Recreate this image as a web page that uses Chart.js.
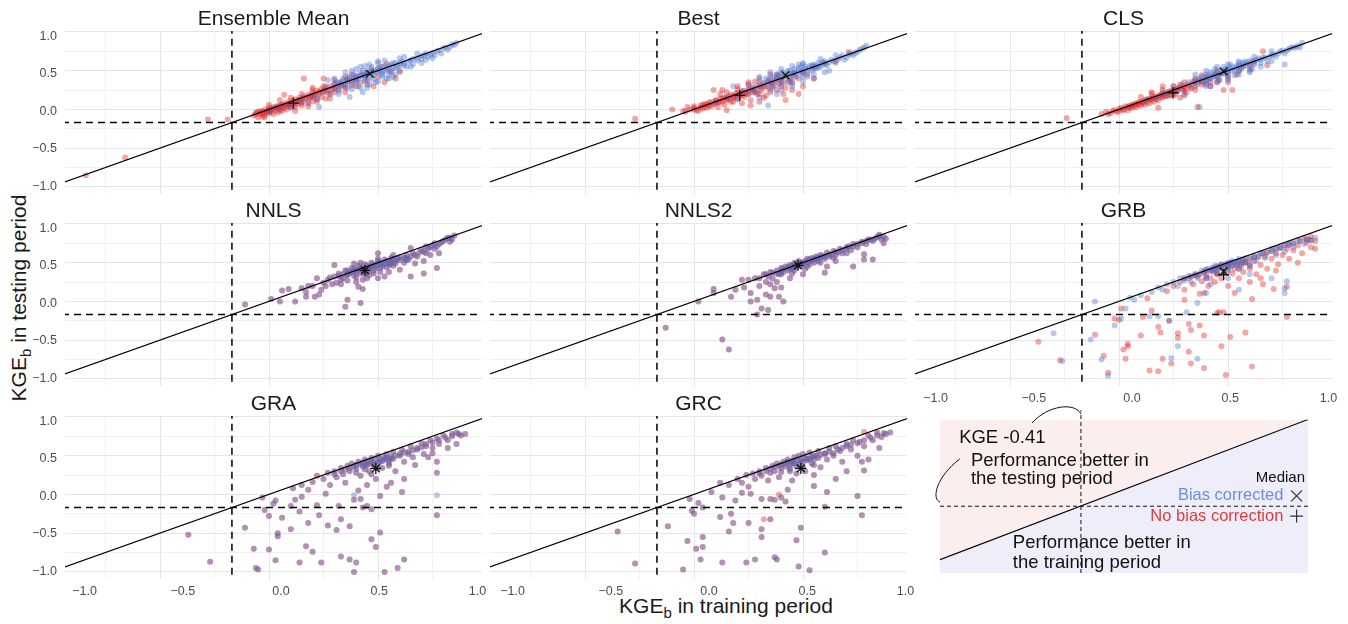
<!DOCTYPE html>
<html>
<head>
<meta charset="utf-8">
<script src="https://cdn.jsdelivr.net/npm/chart.js@4.4.1/dist/chart.umd.min.js"></script>
<style>
  body { margin: 0; background: #fff; width: 1348px; height: 624px; overflow: hidden; position: relative;
         font-family: "Liberation Sans", Arial, sans-serif; }
  .box { position: absolute; }
  .axt { position: absolute; font-size: 21px; color: #1a1a1a; white-space: nowrap; line-height: 21px; }
  .axt sub { font-size: 15px; vertical-align: -5px; line-height: 0; }
</style>
</head>
<body>
<div class="axt" id="xTitle" style="left:726px; top:595px; transform:translateX(-50%);">KGE<sub>b</sub> in training period</div>
<div class="axt" id="yTitle" style="left:18px; top:298px; transform:translate(-50%,-50%) rotate(-90deg);">KGE<sub>b</sub> in testing period</div>
<script>
// panel titles, in reading order
const panelTitles = ['Ensemble Mean', 'Best', 'CLS', 'NNLS', 'NNLS2', 'GRB', 'GRA', 'GRC'];

// ticks
const xGridTicks = [-0.75, -0.5, -0.25, 0, 0.25, 0.5, 0.75];
const yGridTicks = [-1, -0.75, -0.5, -0.25, 0, 0.25, 0.5, 0.75, 1];
const labelTicks = [-1, -0.5, 0, 0.5, 1];
const dashedAt = -0.17;

// [training, testing] pairs
const ensNoBias = [[-0.84,-0.85],[-0.66,-0.62],[-0.28,-0.13],[-0.19,-0.13],[-0.07,-0.08],[-0.06,-0.04],[-0.05,-0.1],[-0.04,-0.06],
  [-0.03,-0.03],[-0.02,-0.07],[-0.01,-0.02],[0.0,-0.05],[0.0,0.0],[0.01,-0.03],[0.02,0.01],[0.02,-0.06],[0.03,-0.01],[0.04,0.03],
  [0.04,-0.04],[0.05,0.01],[0.06,0.05],[0.06,-0.02],[0.07,0.02],[0.08,0.06],[0.08,0.0],[0.09,0.04],[0.1,0.08],[0.1,0.02],
  [0.11,0.05],[0.12,0.1],[0.12,0.03],[0.13,0.07],[0.14,0.12],[0.15,0.05],[0.15,0.1],[0.16,0.4],[0.07,0.19],[0.17,0.13],
  [0.18,0.08],[0.19,0.15],[0.2,0.11],[0.21,0.18],[0.22,0.13],[0.23,0.2],[0.24,0.16],[0.25,0.22],[0.26,0.14],[0.27,0.25],
  [0.28,0.2],[0.29,0.27],[0.3,0.22],[0.31,0.3],[0.32,0.26],[0.33,0.33],[0.35,0.28],[0.36,0.36],[0.38,0.31],[0.4,0.42],
  [0.42,0.35],[0.44,0.45],[0.45,0.38],[0.47,0.5],[0.5,0.42],[0.52,0.55],[0.53,0.35],[0.54,0.59],[0.56,0.48],[0.6,0.5],
  [0.58,0.4],[0.25,0.4],[0.3,0.38],[0.2,0.25],[0.48,0.3]];
const ensNoBiasCore = [[-0.06,-0.06],[-0.05,-0.03],[-0.04,-0.02],[-0.03,-0.05],[-0.02,0.0],[-0.01,-0.04],[0.0,0.02],[0.01,0.0],
  [0.02,0.03],[0.03,0.02],[0.04,0.05],[0.05,0.04],[0.06,0.07],[0.07,0.05],[0.08,0.09],[0.09,0.07],[0.1,0.11],[0.11,0.09],
  [0.12,0.13],[0.13,0.11],[0.14,0.15],[0.15,0.13],[0.16,0.17],[0.17,0.15],[0.18,0.19],[0.19,0.17],[0.2,0.21],[0.21,0.2],
  [0.22,0.24],[0.23,0.22],[0.24,0.26],[0.25,0.24],[0.26,0.28],[0.27,0.22],[0.28,0.3],[0.3,0.32],[0.32,0.34],[0.34,0.31],
  [0.36,0.39],[0.38,0.37],[0.4,0.38],[0.42,0.44],[0.45,0.47],[0.05,-0.01],[0.1,0.06],[0.15,0.08],[0.2,0.16],[0.0,-0.02],
  [-0.03,-0.09],[0.35,0.42],[0.5,0.52],
  [0.05,0.12],[0.1,0.15],[0.15,0.2],[0.2,0.28],[0.25,0.3],[0.3,0.26],[0.12,-0.02],[0.18,0.04],[0.22,0.1],[0.28,0.14],
  [0.35,0.22],[0.4,0.3],[0.45,0.32],[0.38,0.45],[0.0,0.06],[-0.02,-0.1]];
const ensBias = [[0.0,-0.02],[0.03,0.02],[0.06,0.05],[0.1,0.03],[0.12,0.08],[0.15,0.12],[0.18,0.1],[0.2,0.18],[0.22,0.14],
  [0.23,0.03],[0.25,0.22],[0.26,0.3],[0.28,0.2],[0.3,0.28],[0.31,0.35],[0.32,0.24],[0.33,0.31],[0.34,0.4],[0.35,0.3],
  [0.36,0.36],[0.37,0.16],[0.37,0.42],[0.38,0.33],[0.39,0.45],[0.4,0.38],[0.41,0.3],[0.42,0.43],[0.43,0.5],[0.44,0.36],
  [0.45,0.46],[0.46,0.4],[0.47,0.52],[0.48,0.44],[0.49,0.35],[0.5,0.48],[0.51,0.55],[0.52,0.45],[0.53,0.5],[0.54,0.4],
  [0.55,0.56],[0.56,0.5],[0.57,0.6],[0.58,0.53],[0.6,0.57],[0.62,0.6],[0.63,0.55],[0.65,0.63],[0.66,0.58],[0.68,0.66],
  [0.7,0.65],[0.71,0.7],[0.73,0.68],[0.75,0.73],[0.76,0.7],[0.78,0.76],[0.79,0.72],[0.8,0.79],[0.82,0.77],[0.83,0.81],
  [0.85,0.83],[0.75,0.66],[0.7,0.6],[0.6,0.48],[0.27,0.38],[0.45,0.28],[0.58,0.45],[0.5,0.6]];
const ensBiasCore = [[0.3,0.33],[0.32,0.3],[0.34,0.36],[0.35,0.33],[0.36,0.4],[0.38,0.38],[0.39,0.41],[0.4,0.43],[0.41,0.4],
  [0.42,0.47],[0.43,0.44],[0.44,0.42],[0.45,0.5],[0.46,0.47],[0.47,0.44],[0.48,0.5],[0.49,0.48],[0.5,0.53],[0.51,0.5],
  [0.52,0.48],[0.53,0.56],[0.54,0.52],[0.55,0.5],[0.56,0.58],[0.57,0.54],[0.58,0.6],[0.59,0.55],[0.6,0.6],[0.61,0.62],
  [0.62,0.57],[0.64,0.62],[0.66,0.65],[0.68,0.63],[0.7,0.69],[0.72,0.72],[0.74,0.71],[0.77,0.75],[0.81,0.8],[0.84,0.84],
  [0.86,0.86],[0.4,0.35],[0.44,0.39],[0.48,0.39],[0.52,0.42],[0.36,0.28],[0.33,0.36],[0.47,0.55],[0.55,0.45],
  [0.35,0.48],[0.38,0.5],[0.4,0.52],[0.42,0.55],[0.44,0.56],[0.46,0.58],[0.5,0.62],[0.53,0.63],[0.38,0.26],[0.42,0.28],
  [0.46,0.32],[0.5,0.36],[0.55,0.4],[0.43,0.22],[0.32,0.2],[0.3,0.4],[0.62,0.68],[0.65,0.55],[0.68,0.72],[0.72,0.64],
  [0.6,0.66],[0.57,0.42]];

const bestNoBias = [[-0.27,-0.12],[-0.1,0.0],[-0.05,-0.02],[-0.03,0.03],[0.0,0.0],[0.0,0.04],[0.02,-0.02],[0.03,0.05],[0.04,0.01],
  [0.05,0.07],[0.06,0.02],[0.07,0.09],[0.08,0.04],[0.09,0.25],[0.1,0.08],[0.1,0.12],[0.11,0.03],[0.12,0.1],[0.13,0.25],
  [0.13,0.14],[0.14,0.06],[0.15,0.12],[0.15,-0.01],[0.16,0.17],[0.17,0.1],[0.18,0.15],[0.19,0.2],[0.2,0.13],[0.21,0.18],
  [0.22,0.22],[0.23,0.16],[0.24,0.2],[0.25,0.25],[0.26,0.12],[0.27,0.22],[0.28,0.28],[0.29,0.2],[0.3,0.3],[0.31,0.25],
  [0.32,0.33],[0.33,0.18],[0.34,0.28],[0.35,0.35],[0.36,0.3],[0.37,0.38],[0.38,0.25],[0.39,0.33],[0.4,0.4],[0.41,0.2],
  [0.42,0.12],[0.43,0.35],[0.45,0.25],[0.46,0.42],[0.48,0.4],[0.5,0.48],[0.52,0.45],[0.55,0.55],[0.6,0.6],[0.65,0.62],
  [0.71,0.74],[0.35,0.45],[0.25,0.32],[0.3,0.1]];
const bestNoBiasCore = [[-0.04,-0.03],[-0.02,0.0],[0.0,0.02],[0.01,-0.01],[0.03,0.02],[0.04,0.06],[0.05,0.03],[0.06,0.07],
  [0.07,0.05],[0.08,0.1],[0.09,0.07],[0.1,0.11],[0.11,0.09],[0.12,0.14],[0.13,0.1],[0.14,0.15],[0.15,0.14],[0.16,0.13],
  [0.17,0.19],[0.18,0.17],[0.19,0.16],[0.2,0.21],[0.21,0.2],[0.22,0.18],[0.23,0.24],[0.24,0.22],[0.25,0.2],[0.26,0.27],
  [0.27,0.25],[0.28,0.23],[0.3,0.32],[0.31,0.28],[0.33,0.3],[0.34,0.36],[0.36,0.33],[0.38,0.4],[0.4,0.36],[0.42,0.43],
  [0.44,0.38],[0.46,0.47],[0.12,0.2],[0.2,0.26],[0.3,0.4],[0.18,0.1],
  [0.2,0.3],[0.25,0.35],[0.3,0.2],[0.32,0.15],[0.35,0.22],[0.28,0.36],[0.4,0.3],[0.42,0.28],[0.45,0.35],[0.38,0.45],
  [0.15,0.22],[0.22,0.08],[0.26,0.05],[0.48,0.2],[0.5,0.3],[0.55,0.4]];
const bestBias = [[0.1,0.1],[0.15,0.16],[0.18,0.3],[0.2,0.14],[0.22,0.24],[0.25,0.2],[0.27,0.3],[0.29,0.26],[0.3,0.36],
  [0.32,0.3],[0.33,0.4],[0.34,0.05],[0.35,0.34],[0.36,0.42],[0.37,0.31],[0.38,0.45],[0.39,0.38],[0.4,0.48],[0.41,0.35],
  [0.42,0.44],[0.43,0.5],[0.44,0.4],[0.45,0.46],[0.46,0.52],[0.47,0.42],[0.48,0.5],[0.49,0.55],[0.5,0.46],[0.51,0.52],
  [0.52,0.42],[0.53,0.56],[0.54,0.5],[0.55,0.58],[0.56,0.53],[0.57,0.6],[0.58,0.55],[0.6,0.62],[0.61,0.57],[0.62,0.5],
  [0.63,0.64],[0.65,0.6],[0.67,0.67],[0.69,0.64],[0.71,0.71],[0.73,0.7],[0.76,0.77],[0.78,0.8],[0.79,0.82],[0.45,0.3],
  [0.38,0.2],[0.3,0.15],[0.55,0.45],[0.5,0.6]];
const bestBiasCore = [[0.32,0.34],[0.34,0.38],[0.35,0.4],[0.37,0.36],[0.38,0.42],[0.39,0.44],[0.4,0.42],[0.41,0.47],[0.42,0.41],
  [0.43,0.46],[0.44,0.5],[0.45,0.44],[0.46,0.48],[0.47,0.46],[0.48,0.53],[0.49,0.48],[0.5,0.5],[0.51,0.55],[0.52,0.49],
  [0.53,0.53],[0.54,0.57],[0.55,0.52],[0.56,0.56],[0.57,0.54],[0.58,0.58],[0.59,0.61],[0.6,0.58],[0.62,0.61],[0.64,0.62],
  [0.66,0.65],[0.68,0.7],[0.7,0.67],[0.72,0.72],[0.74,0.73],[0.75,0.74],[0.77,0.78],[0.44,0.36],[0.4,0.33],[0.36,0.28],
  [0.5,0.42],[0.48,0.58],
  [0.3,0.42],[0.35,0.48],[0.4,0.52],[0.45,0.56],[0.5,0.58],[0.35,0.25],[0.4,0.25],[0.45,0.33],[0.5,0.36],[0.55,0.4],
  [0.6,0.48],[0.28,0.22],[0.25,0.3],[0.58,0.65],[0.65,0.7]];

const clsNoBias = [[-0.24,-0.11],[-0.08,-0.06],[-0.06,-0.03],[-0.04,-0.05],[-0.02,-0.01],[0.0,-0.03],[0.0,0.01],[0.02,0.0],
  [0.03,0.04],[0.04,-0.01],[0.05,0.05],[0.06,0.02],[0.07,0.07],[0.08,0.03],[0.09,0.09],[0.1,0.05],[0.11,0.1],[0.12,0.06],
  [0.13,0.13],[0.14,0.08],[0.15,0.14],[0.16,0.1],[0.17,0.16],[0.18,0.02],[0.18,0.12],[0.19,0.19],[0.2,0.15],[0.21,0.2],
  [0.22,0.17],[0.23,0.23],[0.24,0.18],[0.25,0.25],[0.26,0.2],[0.27,0.27],[0.28,0.15],[0.29,0.26],[0.3,0.3],[0.31,0.22],
  [0.32,0.32],[0.33,0.27],[0.34,0.36],[0.35,0.3],[0.36,0.03],[0.37,0.38],[0.38,0.32],[0.4,0.42],[0.42,0.35],[0.44,0.45],
  [0.46,0.38],[0.48,0.25],[0.5,0.48],[0.52,0.25],[0.54,0.45],[0.57,0.55],[0.61,0.52],[0.66,0.75],[0.68,0.57],[0.62,0.62],
  [0.2,0.3],[0.15,0.22],[0.3,0.18]];
const clsNoBiasCore = [[-0.05,-0.06],[-0.03,-0.02],[-0.01,-0.03],[0.01,0.02],[0.02,-0.01],[0.04,0.03],[0.05,0.02],[0.06,0.06],
  [0.07,0.04],[0.08,0.08],[0.09,0.06],[0.1,0.1],[0.11,0.08],[0.12,0.12],[0.13,0.1],[0.14,0.14],[0.15,0.12],[0.16,0.16],
  [0.17,0.13],[0.18,0.18],[0.19,0.16],[0.2,0.2],[0.21,0.17],[0.22,0.22],[0.23,0.19],[0.24,0.24],[0.25,0.22],[0.26,0.26],
  [0.27,0.24],[0.28,0.29],[0.3,0.27],[0.32,0.3],[0.34,0.33],[0.36,0.35],[0.38,0.36],[0.4,0.38],[0.42,0.41],[0.45,0.42],
  [0.48,0.47],[0.25,0.3],[0.3,0.35],[0.35,0.25],[0.42,0.3],[0.5,0.35],
  [0.1,0.16],[0.15,0.2],[0.2,0.25],[0.25,0.18],[0.3,0.24],[0.35,0.4],[0.4,0.32],[0.45,0.35],[0.5,0.42],[0.55,0.5],
  [0.38,0.44],[0.28,0.32],[0.6,0.58],[0.45,0.5]];
const clsBias = [[0.12,0.12],[0.17,0.15],[0.2,0.22],[0.22,0.18],[0.25,0.3],[0.27,0.25],[0.29,0.32],[0.3,0.2],[0.32,0.35],
  [0.33,0.28],[0.35,0.38],[0.36,0.32],[0.37,0.03],[0.38,0.42],[0.39,0.35],[0.4,0.45],[0.41,0.38],[0.42,0.48],[0.43,0.42],
  [0.44,0.52],[0.45,0.45],[0.46,0.38],[0.47,0.5],[0.48,0.55],[0.49,0.46],[0.5,0.52],[0.51,0.58],[0.52,0.5],[0.53,0.44],
  [0.54,0.56],[0.55,0.6],[0.56,0.52],[0.57,0.58],[0.58,0.62],[0.6,0.55],[0.61,0.63],[0.62,0.58],[0.64,0.66],[0.65,0.6],
  [0.67,0.67],[0.68,0.62],[0.7,0.7],[0.72,0.68],[0.74,0.75],[0.76,0.72],[0.76,0.58],[0.78,0.78],[0.8,0.8],[0.82,0.82],
  [0.84,0.86],[0.83,0.8],[0.42,0.3],[0.5,0.4],[0.6,0.48]];
const clsBiasCore = [[0.35,0.36],[0.37,0.4],[0.38,0.37],[0.4,0.41],[0.41,0.44],[0.42,0.4],[0.43,0.46],[0.44,0.44],[0.45,0.49],
  [0.46,0.46],[0.47,0.45],[0.48,0.5],[0.49,0.52],[0.5,0.49],[0.51,0.53],[0.52,0.55],[0.53,0.51],[0.54,0.54],[0.55,0.57],
  [0.56,0.55],[0.57,0.6],[0.58,0.57],[0.59,0.6],[0.6,0.62],[0.62,0.6],[0.63,0.64],[0.65,0.64],[0.66,0.67],[0.69,0.68],
  [0.71,0.71],[0.73,0.72],[0.75,0.76],[0.77,0.76],[0.79,0.8],[0.81,0.8],[0.45,0.4],[0.5,0.44],[0.55,0.5],[0.4,0.35],[0.6,0.5],
  [0.35,0.45],[0.4,0.5],[0.45,0.55],[0.5,0.58],[0.55,0.62],[0.4,0.3],[0.45,0.35],[0.5,0.38],[0.55,0.45],[0.6,0.52],
  [0.65,0.55],[0.7,0.62],[0.7,0.75],[0.62,0.68]];

// panels where both runs coincide (drawn red and blue on top of each other)
const nnlsPts = [[-0.11,-0.04],[0.01,0.03],[0.05,0.0],[0.06,0.14],[0.09,0.16],[0.12,0.0],[0.15,0.17],[0.17,0.06],[0.17,0.12],
  [0.21,0.06],[0.23,0.09],[0.22,0.3],[0.26,0.2],[0.28,0.31],[0.3,0.47],[0.31,0.24],[0.35,-0.07],[0.36,0.02],[0.42,-0.02],
  [0.33,0.28],[0.36,0.34],[0.39,0.49],[0.41,0.19],[0.43,0.16],[0.43,0.28],[0.46,0.34],[0.47,0.45],[0.5,0.62],[0.51,0.43],
  [0.53,0.32],[0.56,0.49],[0.57,0.6],[0.6,0.41],[0.63,0.56],[0.65,0.32],[0.67,0.49],[0.65,0.69],[0.71,0.52],[0.71,0.36],
  [0.72,0.71],[0.77,0.43],[0.76,0.75],[0.78,0.62],[0.82,0.82],[0.85,0.85],[0.83,0.77],[0.74,0.6],
  [0.3,0.32],[0.32,0.36],[0.34,0.3],[0.35,0.4],[0.36,0.27],[0.37,0.37],[0.38,0.43],[0.39,0.33],[0.4,0.4],[0.41,0.46],
  [0.42,0.36],[0.43,0.42],[0.44,0.48],[0.45,0.38],[0.46,0.44],[0.47,0.5],[0.48,0.4],[0.49,0.46],[0.5,0.52],[0.51,0.38],
  [0.52,0.48],[0.53,0.54],[0.54,0.44],[0.55,0.5],[0.56,0.56],[0.57,0.46],[0.58,0.52],[0.6,0.57],[0.62,0.5],[0.63,0.6],
  [0.64,0.54],[0.66,0.62],[0.68,0.58],[0.7,0.66],[0.72,0.62],[0.74,0.7],[0.76,0.68],[0.78,0.74],[0.8,0.78],[0.25,0.24],
  [0.27,0.28],[0.2,0.2],[0.18,0.2],[0.24,0.15],[0.29,0.22],[0.33,0.22],[0.45,0.3],[0.5,0.3],[0.55,0.38],[0.4,0.25]];
const nnlsCore = [[0.32,0.33],[0.34,0.35],[0.36,0.35],[0.38,0.38],[0.39,0.42],[0.4,0.37],[0.41,0.41],[0.42,0.44],[0.43,0.39],
  [0.44,0.43],[0.45,0.46],[0.46,0.41],[0.47,0.45],[0.48,0.48],[0.49,0.43],[0.5,0.47],[0.51,0.5],[0.52,0.45],[0.53,0.49],
  [0.54,0.52],[0.55,0.47],[0.56,0.51],[0.57,0.54],[0.58,0.49],[0.59,0.55],[0.6,0.53],[0.62,0.56],[0.63,0.53],[0.65,0.58],
  [0.67,0.6],[0.69,0.63],[0.71,0.64],[0.73,0.68],[0.75,0.72],[0.77,0.71],[0.79,0.76],[0.81,0.8],[0.83,0.82],[0.84,0.8],
  [0.4,0.31],[0.44,0.35],[0.48,0.36],[0.36,0.4],[0.42,0.5],[0.5,0.55]];
const nnls2Pts = [[0.02,0.0],[0.09,0.16],[0.09,0.11],[0.17,0.06],[0.19,0.15],[0.22,0.28],[0.23,0.18],[0.26,0.0],[0.26,0.11],
  [0.29,0.02],[0.29,-0.17],[0.31,-0.09],[0.34,-0.11],[0.33,0.09],[0.35,0.06],[0.37,0.17],[0.39,0.06],[0.41,0.0],[0.4,0.18],
  [-0.13,-0.34],[0.13,-0.49],[0.16,-0.62],[0.73,0.45],[0.78,0.54],[0.82,0.54],[0.78,0.61],[0.65,0.52],[0.6,0.37],[0.61,0.45],
  [0.87,0.75],[0.85,0.86],
  [0.25,0.28],[0.28,0.3],[0.3,0.3],[0.32,0.35],[0.34,0.32],[0.35,0.38],[0.36,0.3],[0.38,0.4],[0.39,0.35],[0.4,0.43],
  [0.41,0.38],[0.42,0.45],[0.43,0.4],[0.44,0.47],[0.45,0.42],[0.46,0.5],[0.47,0.44],[0.48,0.52],[0.49,0.46],[0.5,0.5],
  [0.51,0.42],[0.52,0.55],[0.53,0.48],[0.54,0.56],[0.55,0.5],[0.56,0.58],[0.57,0.52],[0.58,0.6],[0.6,0.55],[0.61,0.63],
  [0.62,0.58],[0.64,0.65],[0.65,0.6],[0.67,0.68],[0.68,0.62],[0.7,0.7],[0.72,0.66],[0.73,0.74],[0.75,0.7],[0.77,0.77],
  [0.79,0.74],[0.8,0.8],[0.82,0.78],[0.84,0.83],[0.86,0.8],[0.88,0.81],[0.44,0.3],[0.38,0.25],[0.35,0.22],[0.5,0.35],
  [0.45,0.36],[0.33,0.25],[0.3,0.2]];
const nnls2Core = [[0.33,0.35],[0.36,0.37],[0.38,0.36],[0.4,0.4],[0.41,0.42],[0.43,0.44],[0.44,0.42],[0.45,0.46],[0.46,0.45],
  [0.47,0.48],[0.48,0.47],[0.49,0.5],[0.5,0.48],[0.51,0.52],[0.52,0.5],[0.53,0.54],[0.54,0.52],[0.55,0.55],[0.56,0.54],
  [0.57,0.57],[0.58,0.56],[0.59,0.59],[0.6,0.58],[0.62,0.61],[0.63,0.6],[0.65,0.64],[0.66,0.63],[0.68,0.66],[0.7,0.68],
  [0.71,0.71],[0.73,0.71],[0.75,0.74],[0.77,0.75],[0.79,0.78],[0.81,0.8],[0.83,0.81],[0.85,0.84],[0.87,0.83],[0.4,0.35],
  [0.46,0.4],[0.52,0.45],[0.58,0.5],[0.64,0.56],[0.7,0.62]];

const grbNoBias = [[-0.37,-0.52],[-0.27,-0.76],[-0.11,-0.43],[-0.07,-0.7],[-0.05,-0.92],[-0.02,-0.22],[0.0,-0.24],[0.01,-0.09],
  [0.02,-0.62],[0.03,-0.74],[0.04,-0.55],[0.04,-0.58],[0.1,-0.44],[0.11,-0.2],[0.13,0.04],[0.14,-0.89],[0.15,-0.12],
  [0.18,-0.9],[0.18,-0.33],[0.19,-0.4],[0.2,-0.74],[0.22,0.13],[0.23,-0.25],[0.24,-0.8],[0.27,-0.41],[0.27,-0.47],[0.3,0.02],
  [0.32,-0.65],[0.32,-0.29],[0.33,-0.8],[0.33,-0.37],[0.37,-0.31],[0.39,-0.86],[0.39,-0.44],[0.39,0.11],[0.45,-0.15],
  [0.46,-0.14],[0.47,-0.58],[0.48,-0.14],[0.49,-0.95],[0.51,-0.46],[0.53,0.11],[0.58,-0.4],[0.61,-0.84],[0.61,0.03],
  [0.66,0.22],[0.71,0.16],[0.77,-0.2],[0.77,0.19],
  [0.25,0.2],[0.28,0.25],[0.3,0.15],[0.32,0.3],[0.34,0.22],[0.36,0.32],[0.37,0.1],[0.38,0.26],[0.4,0.35],[0.41,0.2],
  [0.42,0.3],[0.43,0.4],[0.44,0.25],[0.45,0.35],[0.46,0.44],[0.47,0.3],[0.48,0.38],[0.5,0.46],[0.5,0.2],[0.52,0.36],
  [0.53,0.42],[0.55,0.3],[0.56,0.45],[0.57,0.38],[0.58,0.5],[0.6,0.42],[0.6,0.25],[0.62,0.52],[0.63,0.35],[0.65,0.47],
  [0.67,0.58],[0.68,0.42],[0.7,0.55],[0.72,0.62],[0.73,0.48],[0.75,0.6],[0.77,0.68],[0.78,0.55],[0.8,0.66],[0.82,0.72],
  [0.84,0.62],[0.86,0.76],[0.88,0.7],[0.9,0.78],[0.88,0.84],[0.85,0.82],[0.9,0.68],[0.82,0.5],[0.72,0.4],[0.65,0.3]];
const grbBias = [[-0.3,-0.41],[-0.26,-0.77],[-0.13,-0.49],[-0.11,0.0],[-0.08,-0.75],[-0.05,-0.96],[-0.02,-0.31],[0.01,-0.22],
  [0.03,-0.09],[0.07,0.02],[0.14,-0.19],[0.18,-0.19],[0.23,-0.25],[0.24,-0.73],[0.27,-0.58],[0.31,-0.14],[0.36,-0.74],
  [0.36,-0.02],[0.4,0.11],[0.55,0.15],[0.7,0.3],[0.76,0.17],[0.76,0.11],[0.77,0.26],
  [0.05,0.05],[0.1,0.08],[0.15,0.12],[0.18,0.18],[0.2,0.15],[0.22,0.22],[0.25,0.25],[0.27,0.2],[0.28,0.3],[0.3,0.27],
  [0.32,0.33],[0.33,0.25],[0.35,0.36],[0.36,0.3],[0.38,0.4],[0.4,0.32],[0.41,0.42],[0.43,0.38],[0.44,0.46],[0.45,0.4],
  [0.47,0.48],[0.48,0.42],[0.5,0.5],[0.51,0.44],[0.52,0.52],[0.54,0.46],[0.55,0.55],[0.57,0.5],[0.58,0.56],[0.6,0.48],
  [0.62,0.58],[0.63,0.52],[0.65,0.62],[0.67,0.56],[0.7,0.68],[0.72,0.6],[0.74,0.7],[0.76,0.64],[0.78,0.75],[0.8,0.7],
  [0.82,0.79],[0.85,0.74],[0.87,0.8],[0.9,0.82],[0.6,0.35],[0.5,0.3],[0.42,0.22]];
const grbCore = [[0.3,0.3],[0.33,0.32],[0.35,0.34],[0.37,0.35],[0.39,0.38],[0.4,0.41],[0.42,0.4],[0.43,0.43],[0.44,0.41],
  [0.45,0.45],[0.46,0.43],[0.47,0.47],[0.48,0.44],[0.49,0.48],[0.5,0.45],[0.51,0.5],[0.52,0.47],[0.53,0.51],[0.54,0.48],
  [0.55,0.52],[0.56,0.49],[0.57,0.54],[0.58,0.51],[0.6,0.55],[0.62,0.57],[0.64,0.58],[0.66,0.62],[0.68,0.63],[0.7,0.65],
  [0.72,0.68],[0.74,0.69],[0.76,0.72],[0.78,0.73],[0.8,0.75],[0.83,0.78],[0.86,0.8],[0.88,0.79],[0.45,0.36],[0.5,0.4],
  [0.55,0.42],[0.4,0.3],[0.6,0.46]];

const graPts = [[-0.37,-0.52],[-0.27,-0.87],[-0.11,-0.43],[-0.07,-0.7],[-0.06,-0.95],[-0.05,-0.97],[-0.03,-0.04],[-0.02,-0.2],
  [0.0,-0.28],[0.0,-0.71],[0.02,-0.12],[0.03,-0.08],[0.03,-0.85],[0.04,-0.5],[0.04,-0.54],[0.06,-0.3],[0.1,-0.45],[0.1,-0.15],
  [0.11,0.08],[0.12,-0.07],[0.14,-0.88],[0.14,-0.22],[0.15,-0.03],[0.17,-0.67],[0.18,-0.37],[0.18,0.06],[0.2,-0.74],
  [0.22,-0.14],[0.23,-0.27],[0.24,-0.88],[0.27,-0.4],[0.31,-0.46],[0.32,-0.15],[0.33,-0.8],[0.33,-0.32],[0.37,-0.41],
  [0.37,-0.84],[0.39,-1.0],[0.4,-0.88],[0.42,-0.06],[0.43,-0.17],[0.45,-0.15],[0.47,-0.19],[0.47,-0.58],[0.49,-0.68],
  [0.51,-0.49],[0.53,-1.0],[0.54,0.1],[0.59,-0.95],[0.62,-0.84],[0.61,0.03],[0.77,-0.27],[0.77,0.28],[0.77,0.42],[0.75,0.53],
  [0.39,-0.07],[0.51,-0.02],[0.41,0.05],[0.26,0.01],
  [0.15,0.12],[0.2,0.16],[0.22,0.24],[0.25,0.2],[0.27,0.28],[0.28,0.12],[0.3,0.3],[0.31,0.22],[0.33,0.34],[0.34,0.26],
  [0.35,0.15],[0.36,0.37],[0.37,0.3],[0.38,0.4],[0.4,0.33],[0.41,0.42],[0.42,0.24],[0.43,0.36],[0.44,0.45],[0.45,0.38],
  [0.46,0.3],[0.47,0.47],[0.48,0.4],[0.49,0.2],[0.5,0.5],[0.51,0.42],[0.52,0.34],[0.53,0.48],[0.54,0.52],[0.55,0.4],
  [0.56,0.46],[0.57,0.55],[0.58,0.3],[0.6,0.5],[0.61,0.58],[0.62,0.42],[0.64,0.55],[0.65,0.62],[0.66,0.48],[0.68,0.58],
  [0.7,0.66],[0.71,0.52],[0.72,0.62],[0.74,0.7],[0.75,0.6],[0.77,0.72],[0.78,0.65],[0.8,0.76],[0.82,0.7],[0.84,0.78],
  [0.86,0.8],[0.88,0.76],[0.9,0.78],[0.86,0.65],[0.82,0.6],[0.73,0.48],[0.67,0.38],[0.62,0.2],[0.56,0.15],[0.45,0.12]];
const graCore = [[0.3,0.26],[0.33,0.3],[0.35,0.32],[0.37,0.34],[0.39,0.36],[0.4,0.38],[0.42,0.39],[0.43,0.41],[0.44,0.37],
  [0.45,0.42],[0.46,0.4],[0.47,0.43],[0.48,0.38],[0.49,0.44],[0.5,0.41],[0.51,0.46],[0.52,0.43],[0.53,0.45],[0.54,0.47],
  [0.55,0.44],[0.56,0.49],[0.57,0.46],[0.58,0.5],[0.6,0.52],[0.62,0.54],[0.64,0.52],[0.66,0.57],[0.68,0.6],[0.7,0.61],
  [0.72,0.65],[0.75,0.67],[0.78,0.7],[0.81,0.73],[0.84,0.75],[0.87,0.78],[0.44,0.32],[0.5,0.34],[0.55,0.37],[0.4,0.28],
  [0.47,0.26]];
const graBiasOnly = [[0.39,-0.01],[0.77,-0.01]];

const grcPts = [[-0.35,-0.48],[-0.27,-0.89],[-0.12,-0.41],[-0.05,-0.97],[-0.03,-0.6],[-0.02,-0.06],[-0.01,-0.21],[0.0,-0.25],
  [0.01,-0.7],[0.03,-0.84],[0.04,-0.55],[0.04,-0.68],[0.04,-0.17],[0.02,-0.11],[0.08,0.03],[0.12,-0.29],[0.13,-0.88],
  [0.13,-0.04],[0.16,-0.48],[0.17,-0.25],[0.18,-0.37],[0.19,-0.08],[0.22,0.02],[0.24,-0.88],[0.25,-0.37],[0.26,0.01],
  [0.28,-0.84],[0.31,-0.45],[0.31,-0.06],[0.31,-0.55],[0.35,-0.32],[0.35,-0.06],[0.37,-0.81],[0.38,-0.84],[0.4,-0.04],
  [0.42,-0.09],[0.47,-0.59],[0.48,-0.93],[0.49,-0.43],[0.53,-0.98],[0.55,0.11],[0.6,-0.75],[0.61,0.03],[0.6,-0.16],
  [0.75,-0.02],[0.77,-0.27],[0.78,0.31],[0.77,0.42],[0.43,0.06],[0.37,-0.07],
  [0.12,0.15],[0.16,0.12],[0.2,0.2],[0.22,0.15],[0.24,0.25],[0.25,0.1],[0.27,0.27],[0.28,0.2],[0.3,0.3],[0.31,0.24],
  [0.33,0.34],[0.34,0.18],[0.35,0.28],[0.36,0.37],[0.37,0.3],[0.38,0.4],[0.39,0.22],[0.4,0.34],[0.41,0.42],[0.42,0.36],
  [0.43,0.45],[0.44,0.3],[0.45,0.4],[0.46,0.48],[0.47,0.36],[0.48,0.5],[0.49,0.42],[0.5,0.52],[0.51,0.3],[0.52,0.46],
  [0.53,0.54],[0.54,0.4],[0.55,0.5],[0.57,0.56],[0.58,0.35],[0.6,0.52],[0.61,0.45],[0.62,0.6],[0.64,0.5],[0.65,0.62],
  [0.67,0.56],[0.68,0.42],[0.7,0.65],[0.72,0.58],[0.73,0.7],[0.75,0.5],[0.76,0.68],[0.78,0.62],[0.8,0.76],[0.82,0.7],
  [0.84,0.8],[0.86,0.74],[0.88,0.78],[0.9,0.8],[0.85,0.6],[0.8,0.45],[0.7,0.3],[0.65,0.2],[0.55,0.25],[0.45,0.18]];
const grcCore = [[0.3,0.27],[0.33,0.3],[0.35,0.33],[0.37,0.35],[0.39,0.37],[0.4,0.39],[0.42,0.4],[0.43,0.42],[0.44,0.38],
  [0.45,0.43],[0.46,0.41],[0.47,0.44],[0.48,0.39],[0.49,0.45],[0.5,0.42],[0.51,0.47],[0.52,0.44],[0.53,0.46],[0.54,0.48],
  [0.55,0.45],[0.56,0.5],[0.57,0.47],[0.58,0.51],[0.6,0.53],[0.62,0.55],[0.64,0.53],[0.66,0.58],[0.68,0.6],[0.7,0.62],
  [0.72,0.64],[0.75,0.66],[0.78,0.7],[0.81,0.73],[0.84,0.76],[0.87,0.79],[0.44,0.33],[0.5,0.35],[0.55,0.38],[0.4,0.29],
  [0.47,0.27]];
const grcNoBiasOnly = [[0.78,0.81],[0.39,0.0],[0.32,-0.32]];

// medians per panel: [training, testing]
const medianBias   = [[0.463,0.46],[0.42,0.44],[0.48,0.49],[0.44,0.40],[0.477,0.465],[0.48,0.387],[0.49,0.335],[0.49,0.335]];
const medianNoBias = [[0.112,0.082],[0.21,0.18],[0.248,0.215],[0.44,0.40],[0.477,0.465],[0.48,0.344],[0.49,0.335],[0.49,0.335]];

const noBiasSeries = [ensNoBias.concat(ensNoBiasCore), bestNoBias.concat(bestNoBiasCore), clsNoBias.concat(clsNoBiasCore),
  nnlsPts.concat(nnlsCore), nnls2Pts.concat(nnls2Core), grbNoBias.concat(grbCore), graPts.concat(graCore),
  grcPts.concat(grcCore, grcNoBiasOnly)];
const biasSeries = [ensBias.concat(ensBiasCore), bestBias.concat(bestBiasCore), clsBias.concat(clsBiasCore),
  nnlsPts.concat(nnlsCore), nnls2Pts.concat(nnls2Core), grbBias.concat(grbCore), graPts.concat(graCore, graBiasOnly),
  grcPts.concat(grcCore)];

Chart.defaults.font.family = '"Liberation Sans", Arial, sans-serif';

const RED = 'rgba(222,22,22,0.38)';
const BLUE = 'rgba(72,112,205,0.38)';
const toXY = a => a.map(p => ({x: p[0], y: p[1]}));
const fmt = v => (v < 0 ? '\u2212' : '') + Math.abs(v).toFixed(1);
const isMajor = v => Math.abs(v * 2 - Math.round(v * 2)) < 1e-6;
const gridColor = c => (c.tick && isMajor(c.tick.value)) ? '#e5e5e5' : '#f1f1f1';

// layout of one facet, in pixels
const KX = 218, KY = 77.5, PW = 417, PH = 163, ZX = 204, ZY = 78.4;
const colLeft = [65, 490, 915];
const rowTop = [31, 223, 416];
const labelShift = [12, 15, 13];

function makePanel(i) {
  const col = i % 3, row = Math.floor(i / 3);
  const showY = col === 0;
  const showX = i >= 5;
  const box = document.createElement('div');
  box.className = 'box';
  box.style.left = (colLeft[col] - 58) + 'px';
  box.style.top = (rowTop[row] - 31) + 'px';
  box.style.width = (58 + PW + 15) + 'px';
  box.style.height = (31 + PH + 24) + 'px';
  const cv = document.createElement('canvas');
  box.appendChild(cv);
  document.body.appendChild(box);

  const line = (data, dash, w) => ({type: 'line', data, borderColor: '#000', borderWidth: w,
    borderDash: dash, pointRadius: 0, fill: false, order: 1});
  const mark = (p, style) => ({data: [{x: p[0], y: p[1]}], pointStyle: style, pointRadius: 5.5,
    borderColor: '#111', backgroundColor: 'rgba(0,0,0,0)', borderWidth: 1.3, order: 0});
  const pts = (a, color, ord) => ({data: toXY(a), pointRadius: 3, backgroundColor: color,
    borderWidth: 0, order: ord});

  new Chart(cv, {
    type: 'scatter',
    data: {
      datasets: [
        mark(medianBias[i], 'crossRot'),
        mark(medianNoBias[i], 'cross'),
        line([{x: -1.5, y: -1.5}, {x: 1.5, y: 1.5}], [], 1.2),
        line([{x: dashedAt, y: -1.5}, {x: dashedAt, y: 1.5}], [7, 5], 1.5),
        line([{x: -1.5, y: dashedAt}, {x: 1.5, y: dashedAt}], [7, 5], 1.5),
        pts(biasSeries[i], BLUE, 2),
        pts(noBiasSeries[i], RED, 3)
      ]
    },
    options: {
      responsive: true, maintainAspectRatio: false, animation: false, events: [],
      layout: {padding: {left: 0, right: 15, top: 0, bottom: 0}},
      plugins: {
        legend: {display: false}, tooltip: {enabled: false},
        title: {display: true, text: panelTitles[i], fullSize: false, color: '#1a1a1a',
          font: {size: 21, weight: 'normal', lineHeight: 1}, padding: {top: 9, bottom: 1}}
      },
      scales: {
        x: {type: 'linear', position: 'bottom', min: -ZX / KX, max: (PW - ZX) / KX,
          afterBuildTicks: s => { s.ticks = xGridTicks.map(v => ({value: v})); },
          afterFit: s => { s.height = 0; s.paddingLeft = 0; s.paddingRight = 0; },
          ticks: {display: false}, border: {display: false},
          grid: {drawTicks: false, color: gridColor, lineWidth: 1}},
        xl: {type: 'linear', position: 'bottom',
          min: (-ZX - labelShift[col]) / 196.5, max: (PW - ZX - labelShift[col]) / 196.5,
          afterBuildTicks: s => { s.ticks = labelTicks.map(v => ({value: v})); },
          afterFit: s => { s.height = 24; s.paddingLeft = 0; s.paddingRight = 0; },
          grid: {display: false, drawTicks: false}, border: {display: false},
          ticks: {padding: 5, autoSkip: false, maxRotation: 0, callback: fmt,
            color: showX ? '#4d4d4d' : 'rgba(0,0,0,0)', font: {size: 12.5}}},
        y: {type: 'linear', position: 'left', min: -(PH - ZY) / KY, max: ZY / KY,
          afterBuildTicks: s => { s.ticks = yGridTicks.map(v => ({value: v})); },
          afterFit: s => { s.width = 0; s.paddingTop = 0; s.paddingBottom = 0; },
          ticks: {display: false}, border: {display: false},
          grid: {drawTicks: false, color: gridColor, lineWidth: 1}},
        yl: {type: 'linear', position: 'left', min: -(PH - ZY - 1.9) / 75, max: (ZY + 1.9) / 75,
          afterBuildTicks: s => { s.ticks = labelTicks.map(v => ({value: v})); },
          afterFit: s => { s.width = 58; s.paddingTop = 0; s.paddingBottom = 0; },
          grid: {display: false, drawTicks: false}, border: {display: false},
          ticks: {padding: 8, autoSkip: false, callback: fmt,
            color: showY ? '#4d4d4d' : 'rgba(0,0,0,0)', font: {size: 12.5}}}
      }
    }
  });
}
for (let i = 0; i < panelTitles.length; i++) makePanel(i);

// explanation key (bottom right)
const keyDiagonal = [{x: 0, y: 0.087}, {x: 1, y: 1}];
const keyDashX = 0.383, keyDashY = 0.435;
const keyNotes = {
  id: 'keyNotes',
  afterDatasetsDraw(chart) {
    const {ctx} = chart;
    const sx = chart.scales.x, sy = chart.scales.y;
    const px = v => sx.getPixelForValue(v), py = v => sy.getPixelForValue(v);
    ctx.save();
    ctx.strokeStyle = '#111';
    ctx.lineWidth = 1;
    ctx.beginPath();
    ctx.moveTo(px(0.25), py(0.977));
    ctx.bezierCurveTo(px(0.293), py(1.094), px(0.367), py(1.114), px(0.383), py(1.036));
    ctx.stroke();
    ctx.beginPath();
    ctx.moveTo(px(0.054), py(0.743));
    ctx.bezierCurveTo(px(-0.014), py(0.619), px(-0.022), py(0.476), px(0), py(0.463));
    ctx.stroke();

    const font = s => s + 'px "Liberation Sans", Arial, sans-serif';
    ctx.textBaseline = 'middle';
    ctx.fillStyle = '#111';
    ctx.textAlign = 'left';
    ctx.font = font(18.5);
    ctx.fillText('KGE -0.41', px(0.052), py(0.877));
    ctx.fillText('Performance better in', px(0.084), py(0.73));
    ctx.fillText('the testing period', px(0.084), py(0.61));
    ctx.fillText('Performance better in', px(0.198), py(0.193));
    ctx.fillText('the training period', px(0.198), py(0.067));
    ctx.textAlign = 'right';
    ctx.font = font(15);
    ctx.fillText('Median', px(0.992), py(0.621));
    ctx.font = font(16.5);
    ctx.fillStyle = '#6a8fd8';
    ctx.fillText('Bias corrected', px(0.933), py(0.502));
    ctx.fillStyle = '#e23a3a';
    ctx.fillText('No bias correction', px(0.933), py(0.371));

    ctx.strokeStyle = '#333';
    ctx.lineWidth = 1.2;
    const gx = px(0.969), g1 = py(0.502), g2 = py(0.371), r = 5.5;
    ctx.beginPath();
    ctx.moveTo(gx - r, g1 - r); ctx.lineTo(gx + r, g1 + r);
    ctx.moveTo(gx - r, g1 + r); ctx.lineTo(gx + r, g1 - r);
    ctx.moveTo(gx - r - 1, g2); ctx.lineTo(gx + r + 1, g2);
    ctx.moveTo(gx, g2 - r - 1); ctx.lineTo(gx, g2 + r + 1);
    ctx.stroke();
    ctx.restore();
  }
};

const keyBox = document.createElement('div');
keyBox.className = 'box';
keyBox.style.left = '920px';
keyBox.style.top = '400px';
keyBox.style.width = '400px';
keyBox.style.height = '180px';
const keyCanvas = document.createElement('canvas');
keyBox.appendChild(keyCanvas);
document.body.appendChild(keyBox);

new Chart(keyCanvas, {
  type: 'scatter',
  data: {
    datasets: [
      {type: 'line', data: [{x: keyDashX, y: 0}, {x: keyDashX, y: 1.06}], borderColor: '#111', borderWidth: 1,
        borderDash: [4, 3], pointRadius: 0, fill: false, clip: false, order: 0},
      {type: 'line', data: [{x: 0, y: keyDashY}, {x: 1, y: keyDashY}], borderColor: '#111', borderWidth: 1,
        borderDash: [4, 3], pointRadius: 0, fill: false, order: 0},
      {type: 'line', data: keyDiagonal, borderColor: '#000', borderWidth: 1.1, pointRadius: 0,
        fill: 'start', backgroundColor: '#eeeefb', order: 1},
      {type: 'line', data: keyDiagonal, borderWidth: 0, pointRadius: 0,
        fill: 'end', backgroundColor: '#fdeeee', order: 2}
    ]
  },
  options: {
    responsive: true, maintainAspectRatio: false, animation: false, events: [],
    layout: {padding: {left: 20, top: 19.5, right: 12, bottom: 7}},
    plugins: {legend: {display: false}, tooltip: {enabled: false}},
    scales: {
      x: {type: 'linear', min: 0, max: 1, display: false},
      y: {type: 'linear', min: 0, max: 1, display: false}
    }
  },
  plugins: [keyNotes]
});
</script>
</body>
</html>
